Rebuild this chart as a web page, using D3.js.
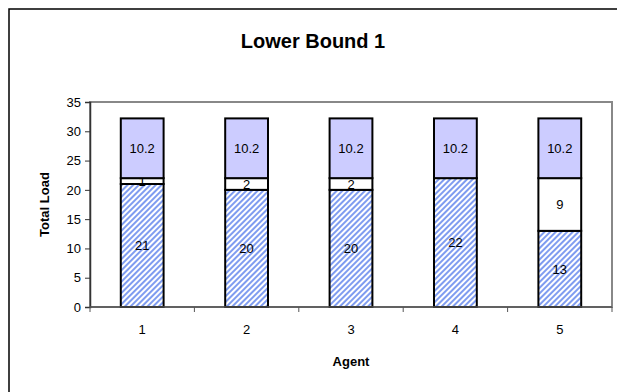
<!DOCTYPE html>
<html>
<head>
<meta charset="utf-8">
<script src="https://cdn.jsdelivr.net/npm/d3@7"></script>
<style>
  body { margin: 0; background: #fff; }
  svg { font-family: "Liberation Sans", Arial, sans-serif; }
</style>
</head>
<body>
<div id="chart"></div>
<script>
const agents = ["1", "2", "3", "4", "5"]
const assigned = [21, 20, 20, 22, 13]
const slack = [1, 2, 2, 0, 9]
const bound = [10.2, 10.2, 10.2, 10.2, 10.2]
const yTicks = [0, 5, 10, 15, 20, 25, 30, 35]

const width = 617
const height = 392
const margin = { top: 102, right: 5, bottom: 85, left: 90 }

const svg = d3.select("#chart").append("svg").attr("width", width).attr("height", height)

// hatch pattern for the bottom segment
const defs = svg.append("defs")
const pat = defs
  .append("pattern")
  .attr("id", "hatch")
  .attr("patternUnits", "userSpaceOnUse")
  .attr("width", 4)
  .attr("height", 4)
  .attr("patternTransform", "rotate(45)")
pat.append("rect").attr("width", 4).attr("height", 4).attr("fill", "#ffffff")
pat.append("rect").attr("x", 0).attr("width", 2).attr("height", 4).attr("fill", "#7f9cf0")

// outer frame
svg.append("rect").attr("x", 9).attr("y", 9).attr("width", 640).attr("height", 420)
  .attr("fill", "none").attr("stroke", "#000").attr("stroke-width", 1.5)

const x = d3.scaleBand().domain(agents).range([margin.left, width - margin.right]).paddingInner(0.59).paddingOuter(0.295)
const xOuter = d3.scaleBand().domain(agents).range([margin.left, width - margin.right])
const y = d3.scaleLinear().domain([0, 35]).range([height - margin.bottom, margin.top])

// plot area border
svg.append("rect")
  .attr("x", margin.left).attr("y", margin.top)
  .attr("width", width - margin.right - margin.left).attr("height", y(0) - margin.top)
  .attr("fill", "none").attr("stroke", "#888").attr("stroke-width", 2)

const series = [
  { key: "assigned", values: assigned, fill: "url(#hatch)" },
  { key: "slack", values: slack, fill: "#ffffff" },
  { key: "bound", values: bound, fill: "#ccccff" }
]

agents.forEach((a, i) => {
  let base = 0
  series.forEach((s) => {
    const v = s.values[i]
    const y0 = base
    const y1 = base + v
    base = y1
    if (v === 0) return
    svg.append("rect")
      .attr("x", x(a))
      .attr("y", y(y1))
      .attr("width", x.bandwidth())
      .attr("height", y(y0) - y(y1))
      .attr("fill", s.fill)
      .attr("stroke", "#000")
      .attr("stroke-width", 2)
    svg.append("text")
      .attr("x", x(a) + x.bandwidth() / 2)
      .attr("y", y((y0 + y1) / 2))
      .attr("dy", "0.36em")
      .attr("text-anchor", "middle")
      .attr("font-size", 13)
      .attr("fill", "#000")
      .text(v)
  })
})

// Y axis
const yAxis = svg.append("g")
  .attr("transform", `translate(${margin.left},0)`)
  .call(d3.axisLeft(y).tickValues(yTicks).tickSize(5).tickPadding(4))
yAxis.selectAll("text").attr("font-size", 13).attr("font-family", "Liberation Sans, Arial, sans-serif").attr("fill", "#000")
yAxis.selectAll("line").attr("stroke", "#333")
yAxis.select(".domain").attr("stroke", "#333").attr("stroke-width", 1.5)

// X axis
const xAxis = svg.append("g").attr("transform", `translate(0,${y(0)})`)
xAxis.append("line").attr("x1", margin.left).attr("x2", width - margin.right).attr("stroke", "#555").attr("stroke-width", 1.5)
xAxis.selectAll(".tick")
  .data(agents.concat(["end"]))
  .enter()
  .append("line")
  .attr("x1", (d, i) => (i < agents.length ? xOuter(d) : width - margin.right))
  .attr("x2", (d, i) => (i < agents.length ? xOuter(d) : width - margin.right))
  .attr("y1", 0)
  .attr("y2", 5)
  .attr("stroke", "#555")
xAxis.selectAll(".lbl")
  .data(agents)
  .enter()
  .append("text")
  .attr("x", (d) => xOuter(d) + xOuter.bandwidth() / 2)
  .attr("y", 27)
  .attr("text-anchor", "middle")
  .attr("font-size", 13)
  .text((d) => d)

// titles
svg.append("text").attr("x", 313).attr("y", 48).attr("text-anchor", "middle")
  .attr("font-size", 20).attr("font-weight", "bold").text("Lower Bound 1")
svg.append("text").attr("x", 351).attr("y", 366).attr("text-anchor", "middle")
  .attr("font-size", 13).attr("font-weight", "bold").text("Agent")
svg.append("text").attr("transform", `translate(49,${(y(0) + margin.top) / 2}) rotate(-90)`)
  .attr("text-anchor", "middle").attr("font-size", 13).attr("font-weight", "bold").text("Total Load")
</script>
</body>
</html>
